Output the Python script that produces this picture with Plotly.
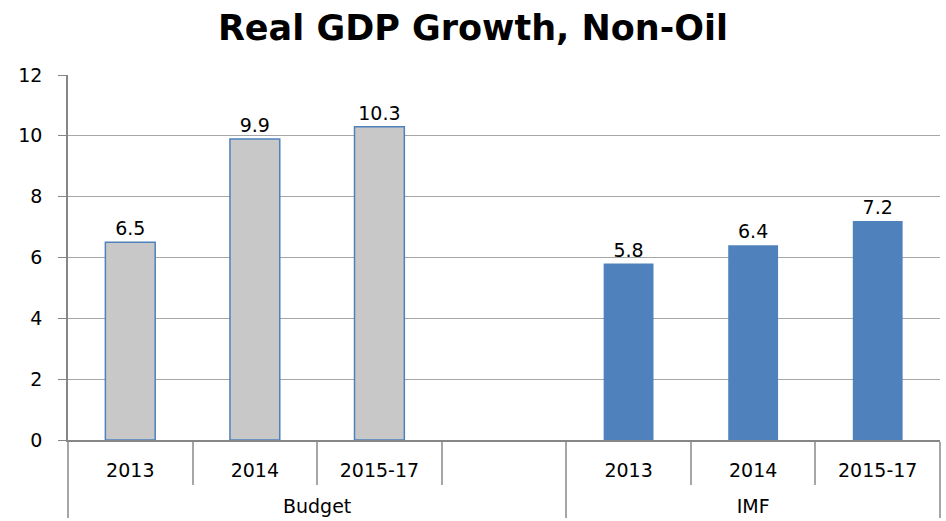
import plotly.graph_objects as go

groups = ["Budget", "IMF"]
periods = ["2013", "2014", "2015-17"]
budget_values = [6.5, 9.9, 10.3]
imf_values = [5.8, 6.4, 7.2]
y_ticks = [0, 2, 4, 6, 8, 10, 12]

outer = [" <br>" + groups[0]] * 4 + [" <br>" + groups[1]] * 3
inner = periods + [" "] + periods

budget_y = budget_values + [None, None, None, None]
imf_y = [None, None, None, None] + imf_values

FONT = "DejaVu Sans"

fig = go.Figure()
fig.add_trace(go.Bar(
    x=[outer, inner], y=budget_y,
    marker=dict(color="#C8C8C8", line=dict(color="#4F81BD", width=1.5)),
    text=[f"{v}" if v is not None else "" for v in budget_y],
    textposition="outside", cliponaxis=False,
    textfont=dict(size=19, color="#000000", family=FONT),
    width=0.4, showlegend=False,
))
fig.add_trace(go.Bar(
    x=[outer, inner], y=imf_y,
    marker=dict(color="#4F81BD", line=dict(color="#4F81BD", width=0)),
    text=[f"{v}" if v is not None else "" for v in imf_y],
    textposition="outside", cliponaxis=False,
    textfont=dict(size=19, color="#000000", family=FONT),
    width=0.4, showlegend=False,
))

fig.update_layout(
    width=946, height=521,
    margin=dict(l=68, r=6, t=75, b=81, autoexpand=False),
    paper_bgcolor="white", plot_bgcolor="white",
    barmode="overlay",
    font=dict(family=FONT, size=19, color="#000000"),
    title=dict(text="<b>Real GDP Growth, Non-Oil</b>", x=0.5, xanchor="center",
               y=0.946, yanchor="middle",
               font=dict(family=FONT, size=35, color="#000000")),
    xaxis=dict(
        type="multicategory", showline=True, linecolor="#868686", linewidth=1.5,
        ticks="outside", ticklen=43, tickcolor="#A6A6A6", tickwidth=1.5,
        showdividers=True, dividercolor="#A6A6A6", dividerwidth=1.5,
        tickfont=dict(size=19, family=FONT), showgrid=False,
        ticklabelstandoff=12, automargin=False,
    ),
    yaxis=dict(
        range=[0, 12], tickvals=y_ticks, showgrid=True, gridcolor="#A6A6A6",
        gridwidth=1, showline=True, linecolor="#868686", linewidth=1.5,
        ticks="outside", ticklen=8, tickcolor="#868686", zeroline=False,
        tickfont=dict(size=19, family=FONT), ticklabelstandoff=12,
        automargin=False,
    ),
)

fig.write_html("out.html", config={"displayModeBar": False},
               post_script="document.body.style.margin='0';")
